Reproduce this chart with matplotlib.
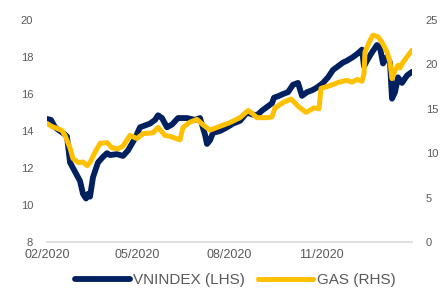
import pandas as pd
import matplotlib
matplotlib.use("Agg")
import matplotlib.pyplot as plt
import matplotlib.dates as mdates

# VNINDEX (left axis, hundreds of points)
vn_dates = [
    "2020-02-01", "2020-02-05", "2020-02-09", "2020-02-14", "2020-02-18", "2020-02-21",
    "2020-02-24", "2020-02-29", "2020-03-05", "2020-03-08", "2020-03-11", "2020-03-13",
    "2020-03-15", "2020-03-18", "2020-03-23", "2020-03-28", "2020-04-01", "2020-04-04",
    "2020-04-11", "2020-04-17", "2020-04-22", "2020-04-29", "2020-05-04", "2020-05-09",
    "2020-05-14", "2020-05-19", "2020-05-22", "2020-05-26", "2020-05-31", "2020-06-05",
    "2020-06-11", "2020-06-20", "2020-06-28", "2020-07-03", "2020-07-08", "2020-07-10",
    "2020-07-13", "2020-07-16", "2020-07-23", "2020-07-30", "2020-08-05", "2020-08-12",
    "2020-08-19", "2020-08-24", "2020-08-29", "2020-09-03", "2020-09-08", "2020-09-13",
    "2020-09-15", "2020-09-20", "2020-09-24", "2020-09-29", "2020-10-04", "2020-10-09",
    "2020-10-13", "2020-10-18", "2020-10-23", "2020-10-28", "2020-11-03", "2020-11-08",
    "2020-11-13", "2020-11-18", "2020-11-23", "2020-11-27", "2020-12-03", "2020-12-08",
    "2020-12-12", "2020-12-14", "2020-12-18", "2020-12-22", "2020-12-27", "2020-12-30",
    "2021-01-02", "2021-01-06", "2021-01-09", "2021-01-11", "2021-01-14", "2021-01-17",
    "2021-01-21", "2021-01-26", "2021-01-31",
]
vn_values = [
    14.65, 14.6, 14.2, 14.0, 13.85, 13.7,
    12.3, 11.8, 11.3, 10.6, 10.35, 10.6,
    10.45, 11.5, 12.3, 12.6, 12.8, 12.7,
    12.75, 12.65, 12.95, 13.6, 14.2, 14.3,
    14.4, 14.6, 14.85, 14.7, 14.2, 14.35,
    14.7, 14.7, 14.6, 14.7, 13.8, 13.3,
    13.5, 13.9, 14.0, 14.2, 14.4, 14.55,
    15.0, 14.9, 14.85, 15.1, 15.3, 15.5,
    15.8, 15.9, 16.0, 16.1, 16.5, 16.6,
    15.9, 16.1, 16.2, 16.35, 16.6, 16.9,
    17.3, 17.5, 17.7, 17.8, 18.0, 18.2,
    18.4, 17.5, 17.9, 18.25, 18.65, 18.5,
    17.65, 18.0, 17.7, 15.75, 16.1, 16.9,
    16.6, 17.0, 17.2,
]

# GAS (right axis)
gas_dates = [
    "2020-02-01", "2020-02-06", "2020-02-11", "2020-02-16", "2020-02-19", "2020-02-24",
    "2020-02-27", "2020-03-03", "2020-03-08", "2020-03-12", "2020-03-15", "2020-03-20",
    "2020-03-25", "2020-04-01", "2020-04-06", "2020-04-12", "2020-04-17", "2020-04-24",
    "2020-05-01", "2020-05-07", "2020-05-17", "2020-05-22", "2020-05-29", "2020-06-03",
    "2020-06-13", "2020-06-16", "2020-06-23", "2020-06-30", "2020-07-06", "2020-07-13",
    "2020-07-20", "2020-08-02", "2020-08-12", "2020-08-20", "2020-08-24", "2020-08-29",
    "2020-09-08", "2020-09-13", "2020-09-16", "2020-09-24", "2020-10-02", "2020-10-10",
    "2020-10-17", "2020-10-25", "2020-10-30", "2020-11-01", "2020-11-11", "2020-11-19",
    "2020-11-27", "2020-12-02", "2020-12-07", "2020-12-12", "2020-12-14", "2020-12-15",
    "2020-12-20", "2020-12-23", "2020-12-28", "2021-01-01", "2021-01-06", "2021-01-09",
    "2021-01-11", "2021-01-14", "2021-01-17", "2021-01-19", "2021-01-22", "2021-01-27",
    "2021-01-31",
]
gas_values = [
    13.35, 13.0, 12.8, 12.55, 12.0, 10.6,
    9.4, 8.95, 9.0, 8.6, 8.95, 10.1,
    11.1, 11.2, 10.6, 10.5, 10.8, 12.0,
    11.65, 12.2, 12.3, 12.9, 12.0, 11.9,
    11.5, 12.9, 13.5, 13.8, 13.2, 12.6,
    12.9, 13.45, 14.0, 14.8, 14.5, 14.0,
    14.0, 14.1, 15.1, 15.7, 16.1, 15.2,
    14.6, 15.1, 15.0, 17.3, 17.65, 18.0,
    18.2, 18.0, 18.3, 18.1, 19.0, 21.4,
    22.7, 23.3, 23.1, 22.5, 21.4, 20.25,
    18.4, 19.3, 19.9, 19.6, 20.25, 21.0,
    21.6,
]

left_ticks = [8, 10, 12, 14, 16, 18, 20]
right_ticks = [0, 5, 10, 15, 20, 25]
x_ticks = ["2020-02-01", "2020-05-01", "2020-08-01", "2020-11-01"]

navy = "#002060"
gold = "#FFC000"
grey = "#595959"

plt.rcParams["font.family"] = ["Liberation Sans", "DejaVu Sans"]

vn_x = pd.to_datetime(vn_dates)
gas_x = pd.to_datetime(gas_dates)

fig = plt.figure(figsize=(4.48, 2.89), dpi=100)
ax = fig.add_axes([47 / 448, 1 - 242 / 289, (412 - 47) / 448, (242 - 20) / 289])
ax2 = ax.twinx()

l1, = ax.plot(vn_x, vn_values, color=navy, lw=4.2, solid_joinstyle="round",
              solid_capstyle="round", label="VNINDEX (LHS)")
l2, = ax2.plot(gas_x, gas_values, color=gold, lw=3.6, solid_joinstyle="round",
               solid_capstyle="round", label="GAS (RHS)")

ax.set_ylim(8, 20)
ax.set_yticks(left_ticks)
ax2.set_ylim(0, 25)
ax2.set_yticks(right_ticks)
ax.set_xlim(vn_x[0], vn_x[-1])
ax.set_xticks(pd.to_datetime(x_ticks))
ax.xaxis.set_major_formatter(mdates.DateFormatter("%m/%Y"))

for a in (ax, ax2):
    for s in a.spines.values():
        s.set_visible(False)
    a.tick_params(length=0, colors=grey)
ax.spines["bottom"].set_visible(True)
ax.spines["bottom"].set_color("#d9d9d9")
ax.spines["bottom"].set_linewidth(1.2)
ax.tick_params(axis="y", labelsize=8, pad=10)
ax2.tick_params(axis="y", labelsize=8, pad=10)
ax.tick_params(axis="x", labelsize=9, pad=5)

fig.legend(handles=[l1, l2], loc="center", bbox_to_anchor=(0.525, 0.03), ncol=2,
           frameon=False, fontsize=11, handlelength=3.6, handletextpad=0.25,
           columnspacing=0.85, labelcolor=grey, borderpad=0)

fig.savefig("out.png", dpi=100)
